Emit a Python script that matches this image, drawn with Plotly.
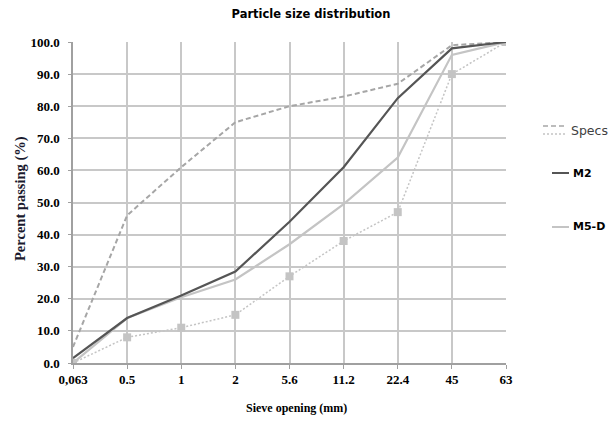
import plotly.graph_objects as go

# Sieve sizes (mm) and percent passing for each gradation
sieves = ["0,063", "0.5", "1", "2", "5.6", "11.2", "22.4", "45", "63"]
spec_upper = [5, 46, 61, 75, 80, 83, 87, 99, 100]
spec_lower = [0, 8, 11, 15, 27, 38, 47, 90, 100]
m2 = [1.5, 14, 21, 28.5, 44, 61, 82.5, 98, 100]
m5d = [0, 14, 20.5, 26, 37, 49.5, 64, 96, 100]
y_ticks = [0, 10, 20, 30, 40, 50, 60, 70, 80, 90, 100]

W, H = 616, 423
L, R, T, B = 73, 110, 42, 60
PW, PH = W - L - R, H - T - B

fig = go.Figure()
fig.add_trace(go.Scatter(x=sieves, y=spec_upper, mode="lines",
                         line=dict(color="#a6a6a6", width=2, dash="5px,3px")))
fig.add_trace(go.Scatter(x=sieves, y=spec_lower, mode="lines+markers",
                         line=dict(color="#c4c4c4", width=1.5, dash="2px,2px"),
                         marker=dict(symbol="square", size=8, color="#c4c4c4")))
fig.add_trace(go.Scatter(x=sieves, y=m5d, mode="lines",
                         line=dict(color="#c4c4c4", width=2.2)))
fig.add_trace(go.Scatter(x=sieves, y=m2, mode="lines",
                         line=dict(color="#555555", width=2.2)))

serif = "Liberation Serif, Times New Roman, serif"
sans = "DejaVu Sans, Verdana, sans-serif"

fig.update_layout(
    width=W, height=H,
    margin=dict(l=L, r=R, t=T, b=B),
    paper_bgcolor="white", plot_bgcolor="white",
    showlegend=False,
    title=dict(text="<b>Particle size distribution</b>",
               font=dict(family=sans, size=11.5, color="#000000"),
               x=(311 - L) / PW, xref="paper", xanchor="center",
               y=1 - 14 / H, yanchor="middle"),
    xaxis=dict(type="category", range=[0, len(sieves) - 1],
               automargin=False,
               showgrid=True, gridcolor="#c8c8c8", gridwidth=1.5,
               showline=True, linecolor="#a0a0a0", linewidth=1.5,
               ticks="outside", ticklen=4, tickcolor="#a0a0a0",
               tickfont=dict(family=serif, size=13, color="#000000"),
               tickprefix="<b>", ticksuffix="</b>",
               zeroline=False),
    yaxis=dict(range=[0, 100], tickvals=y_ticks,
               automargin=False,
               ticktext=[f"<b>{v:.1f}</b>" for v in y_ticks],
               showgrid=True, gridcolor="#c8c8c8", gridwidth=1.5,
               showline=True, linecolor="#a0a0a0", linewidth=1.5,
               ticks="outside", ticklen=3, tickcolor="#a0a0a0",
               ticklabelstandoff=6,
               tickfont=dict(family=serif, size=13, color="#000000"),
               zeroline=False),
)


# Pixel positions converted to paper units of the plot area
def px(x):
    return (x - L) / PW


def py(y):
    return (H - B - y) / PH


# Axis titles
fig.add_annotation(xref="paper", yref="paper", x=px(296), y=py(408),
                   xanchor="center", yanchor="middle", showarrow=False,
                   text="<b>Sieve opening (mm)</b>",
                   font=dict(family=serif, size=12, color="#000000"))
fig.add_annotation(xref="paper", yref="paper", x=px(20), y=py(199),
                   xanchor="center", yanchor="middle", showarrow=False,
                   textangle=-90,
                   text="<b>Percent passing (%)</b>",
                   font=dict(family=serif, size=14.5, color="#1a1a2e"))

# Legend drawn beside the plot area
legend_lines = [
    (543, 565, 126, "5px,3px", "#a6a6a6", 1.5),
    (543, 565, 134, "2px,2px", "#c4c4c4", 1.5),
    (552, 569, 173, "solid", "#555555", 2),
    (552, 569, 227, "solid", "#c4c4c4", 2),
]
for x0, x1, y, dash, color, w in legend_lines:
    fig.add_shape(type="line", xref="paper", yref="paper",
                  x0=px(x0), x1=px(x1), y0=py(y), y1=py(y),
                  line=dict(color=color, width=w, dash=dash))

legend_labels = [
    (569, 130, "Specs", 12.5, "#404040"),
    (571, 173, "<b>M2</b>", 11, "#000000"),
    (571, 227, "<b>M5-D</b>", 11, "#000000"),
]
for x, y, text, size, color in legend_labels:
    fig.add_annotation(xref="paper", yref="paper", x=px(x), y=py(y),
                       xanchor="left", yanchor="middle", showarrow=False,
                       text=text, font=dict(family=sans, size=size, color=color))

fig.write_html("out.html")
